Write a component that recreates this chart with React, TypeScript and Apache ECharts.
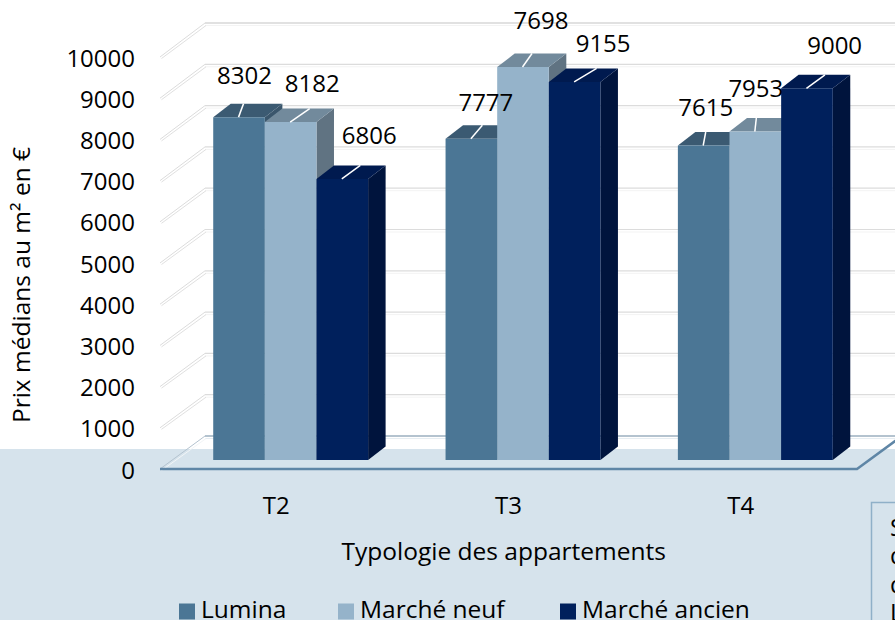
import React, { useEffect, useRef } from "react";
import * as echarts from "echarts";

const categories = ["T2", "T3", "T4"];
const seriesNames = ["Lumina", "Marché neuf", "Marché ancien"];
const lumina = [8302, 7777, 7615];
const marcheNeuf = [8182, 9515, 7953];
const marcheAncien = [6806, 9155, 9000];
const luminaLabels = ["8302", "7777", "7615"];
const marcheNeufLabels = ["8182", "7698", "7953"];
const marcheAncienLabels = ["6806", "9155", "9000"];
const yTicks = [0, 1000, 2000, 3000, 4000, 5000, 6000, 7000, 8000, 9000, 10000];
const clippedNote = ["S", "d", "d", "L"];

const FONT = "'Open Sans'";
const FONT_SIZE = 24;
const TEXT_SIZE = 24.5;
const FRONT = ["#4b7695", "#95b3ca", "#00205c"];
const TOP = ["#3b5a72", "#728a9c", "#001a4f"];
const SIDE = ["#3a566c", "#607382", "#00143d"];
const DEPTH_X = 17.5;
const DEPTH_Y = 13.5;
// Placement of each data label and of the end of its leader, from the front-top centre of the bar
const LABEL_OFFSET = [
  [[5.5, -42.5], [14.5, -37.5], [2, -39.5]],
  [[21.5, -39.5], [18, -47.5], [0.5, -44.5]],
  [[27, -44.5], [28.5, -39], [27.7, -43.5]],
];
const LEADER_DX = [
  [4.5, 11, 2],
  [19, 9, 1],
  [18, 22, 18],
];

const allValues = [lumina, marcheNeuf, marcheAncien];
const allLabels = [luminaLabels, marcheNeufLabels, marcheAncienLabels];

function barRender(si: number) {
  return (params: any, api: any) => {
    const c = api.value(0);
    const v = api.value(1);
    const top = api.coord([c, v]);
    const base = api.coord([c, 0]);
    const w = api.size([1, 0])[0] / 4.5;
    const x0 = top[0] + (si - 1.5) * w;
    const x1 = x0 + w;
    const yt = top[1];
    const yb = base[1];
    return {
      type: "group",
      children: [
        {
          type: "polygon",
          shape: { points: [[x1, yt], [x1 + DEPTH_X, yt - DEPTH_Y], [x1 + DEPTH_X, yb - DEPTH_Y], [x1, yb]] },
          style: { fill: SIDE[si] },
        },
        {
          type: "polygon",
          shape: { points: [[x0, yt], [x0 + DEPTH_X, yt - DEPTH_Y], [x1 + DEPTH_X, yt - DEPTH_Y], [x1, yt]] },
          style: { fill: TOP[si] },
        },
        {
          type: "rect",
          shape: { x: x0, y: yt, width: w, height: yb - yt },
          style: { fill: FRONT[si] },
        },
      ],
    };
  };
}

function labelRender(si: number) {
  return (params: any, api: any) => {
    const c = api.value(0);
    const v = api.value(1);
    const top = api.coord([c, v]);
    const w = api.size([1, 0])[0] / 4.5;
    const cx = top[0] + (si - 1) * w;
    const [dx, dy] = LABEL_OFFSET[si][c];
    return {
      type: "group",
      children: [
        {
          type: "line",
          shape: { x1: cx - 0.5, y1: top[1], x2: cx + LEADER_DX[si][c], y2: top[1] - DEPTH_Y },
          style: { stroke: "#ffffff", lineWidth: 1.5 },
        },
        {
          type: "text",
          style: {
            x: cx + dx,
            y: top[1] + dy,
            text: allLabels[si][c],
            font: `${FONT_SIZE}px ${FONT}`,
            fill: "#000000",
            align: "center",
            verticalAlign: "middle",
          },
        },
      ],
    };
  };
}

function wallRender(params: any, api: any) {
  const v = api.value(0);
  const f = api.coord([0, v]);
  const fx = 160;
  const fy = f[1];
  const bx = 205;
  const by = fy - 33 - v / 10000;
  const isBase = v === 0;
  const isTop = v === 10000;
  const main = isBase ? "#b4c3cf" : isTop ? "#c4c4c4" : "#dcdcdc";
  return {
    type: "group",
    children: [
      { type: "line", shape: { x1: bx, y1: by + 2.5, x2: 910, y2: by + 2.5 }, style: { stroke: isBase ? "#e6edf2" : "#f3f3f3", lineWidth: 1 } },
      { type: "line", shape: { x1: bx, y1: by, x2: 910, y2: by }, style: { stroke: main, lineWidth: isBase ? 2 : 1.2 } },
      { type: "line", shape: { x1: fx, y1: fy, x2: bx, y2: by }, style: { stroke: isBase ? "#b4c3cf" : "#dcdcdc", lineWidth: 1 } },
      { type: "line", shape: { x1: fx + 1.5, y1: fy + 1.5, x2: bx + 1, y2: by + 2.5 }, style: { stroke: isBase ? "#f2f5f7" : "#e0e0e0", lineWidth: 1 } },
    ],
  };
}

function floorRender(params: any, api: any) {
  const a = api.coord([0, 0]);
  return {
    type: "polyline",
    shape: { points: [[160, a[1]], [857, a[1]], [902, a[1] - 33]] },
    style: { stroke: "#5f86a6", lineWidth: 2.5, fill: "none" },
  };
}

const hiddenAxis = { show: false };

export default function App() {
  const ref = useRef<HTMLDivElement>(null);
  useEffect(() => {
    const chart = echarts.init(ref.current!, undefined, { renderer: "svg" });
    const legendBase = {
      top: 596,
      itemWidth: 16,
      itemHeight: 22,
      itemGap: 0,
      // A square in the lower part of the icon box, so the swatch sits a little below the text's centre
      icon: "path://M0 0L0 0M0 6L16 6L16 22L0 22Z",
      textStyle: { fontFamily: FONT, fontSize: TEXT_SIZE, lineHeight: 24, color: "#000", padding: [0, 0, 0, 1] },
      selectedMode: false,
      padding: 0,
    };
    const barSeries = allValues.map((vals, si) => ({
      type: "custom",
      name: seriesNames[si],
      xAxisIndex: 1,
      yAxisIndex: 1,
      z: 5 + si,
      silent: true,
      itemStyle: { color: FRONT[si] },
      clip: false,
      renderItem: barRender(si),
      data: vals.map((v, i) => [i, v]),
    }));
    const labelSeries = allValues.map((vals, si) => ({
      type: "custom",
      xAxisIndex: 1,
      yAxisIndex: 1,
      z: 20,
      silent: true,
      clip: false,
      renderItem: labelRender(si),
      data: vals.map((v, i) => [i, v]),
    }));
    chart.setOption({
      animation: false,
      backgroundColor: "#ffffff",
      graphic: [
        { type: "rect", z: -10, shape: { x: 0, y: 449, width: 895, height: 171 }, style: { fill: "#d6e3ec" } },
        { type: "rect", z: -9, shape: { x: 871.5, y: 502.5, width: 40, height: 130 }, style: { fill: "#d6e3ec", stroke: "#8fb0c8", lineWidth: 1.5 } },
        ...clippedNote.map((t, i) => ({
          type: "text",
          z: 30,
          style: { x: 890, y: 526 + i * 28.5, text: t, font: `24px ${FONT}`, lineHeight: 24, fill: "#000", verticalAlign: "middle" },
        })),
      ],
      legend: seriesNames.map((name, i) => ({ ...legendBase, data: [name], left: [179, 338, 560][i] })),
      grid: [
        { left: 160, width: 697, top: 57, height: 412 },
        { left: 174.5, width: 697, top: 47, height: 413 },
        { left: 147.5, width: 706, top: 148, height: 274 },
      ],
      xAxis: [
        {
          type: "category",
          gridIndex: 0,
          data: categories,
          axisLine: { show: false },
          axisTick: { show: false },
          axisLabel: { fontFamily: FONT, fontSize: FONT_SIZE, color: "#000", margin: 23 },
        },
        { type: "category", gridIndex: 1, data: categories, ...hiddenAxis },
        {
          type: "category",
          gridIndex: 2,
          axisLine: { show: false },
          axisTick: { show: false },
          axisLabel: { show: false },
          name: "Typologie des appartements",
          nameLocation: "middle",
          nameGap: 116,
          nameTextStyle: { fontFamily: FONT, fontSize: TEXT_SIZE, color: "#000" },
        },
      ],
      yAxis: [
        {
          type: "value",
          gridIndex: 0,
          min: 0,
          max: 10000,
          interval: 1000,
          axisLine: { show: false },
          axisTick: { show: false },
          splitLine: { show: false },
          axisLabel: { fontFamily: FONT, fontSize: FONT_SIZE, color: "#000", margin: 25, formatter: (v: number) => String(v) },
        },
        { type: "value", gridIndex: 1, min: 0, max: 10000, interval: 1000, ...hiddenAxis },
        {
          type: "value",
          gridIndex: 2,
          axisLine: { show: false },
          axisTick: { show: false },
          axisLabel: { show: false },
          splitLine: { show: false },
          name: "Prix médians au m² en €",
          nameLocation: "middle",
          nameGap: 121,
          nameRotate: 90,
          nameTextStyle: { fontFamily: FONT, fontSize: TEXT_SIZE, color: "#000" },
        },
      ],
      series: [
        {
          type: "custom",
          xAxisIndex: 0,
          yAxisIndex: 0,
          z: 1,
          silent: true,
          clip: false,
          renderItem: wallRender,
          data: yTicks.map((v) => [v]),
          encode: { y: 0 },
        },
        {
          type: "custom",
          xAxisIndex: 0,
          yAxisIndex: 0,
          z: 2,
          silent: true,
          clip: false,
          renderItem: floorRender,
          data: [[0]],
        },
        ...barSeries,
        ...labelSeries,
      ],
    });
    return () => chart.dispose();
  }, []);
  return <div ref={ref} style={{ position: "fixed", left: 0, top: 0, width: 895, height: 620 }} />;
}
